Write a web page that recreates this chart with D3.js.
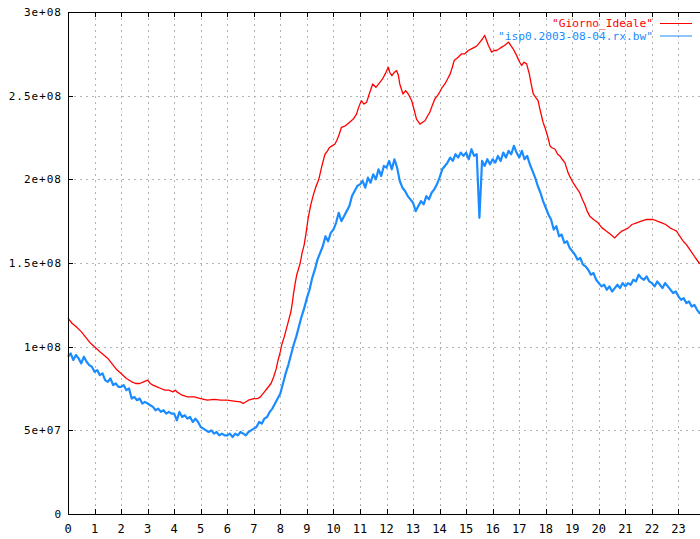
<!DOCTYPE html>
<html>
<head>
<meta charset="utf-8">
<script src="https://cdn.jsdelivr.net/npm/d3@7"></script>
<style>
  body { margin: 0; background: #fff; }
  svg { display: block; }
</style>
</head>
<body>
<div id="vis"></div>
<script>
// tick labels
var xTicks = d3.range(0, 24);
var yTicks = [0, 5e7, 1e8, 1.5e8, 2e8, 2.5e8, 3e8];
var yTickLabels = ["0", "5e+07", "1e+08", "1.5e+08", "2e+08", "2.5e+08", "3e+08"];

var seriesNames = ['"Giorno_Ideale"', '"isp0.2003-08-04.rx.bw"'];

// Giorno_Ideale, [hour, value in millions]
var ideale = [
  [0.0,117],[0.15,114],[0.3,112],[0.5,109],[0.7,105],[0.85,102],[1.0,100],[1.2,97],[1.35,95],[1.5,93],
  [1.7,89],[1.85,86],[2.0,84],[2.2,81],[2.4,79],[2.55,78],[2.7,78],[2.85,79],[3.0,80],[3.1,78],
  [3.2,77],[3.35,76],[3.5,75],[3.65,74],[3.8,74],[3.95,73],[4.05,74],[4.1,73],[4.3,71],[4.5,70],
  [4.75,70],[5.0,69],[5.25,68],[5.5,68.5],[5.75,68],[6.0,68],[6.25,67.5],[6.5,67],[6.6,66],[6.8,68],
  [7.0,69],[7.15,69],[7.25,70],[7.4,73],[7.5,75],[7.65,78],[7.75,82],[7.85,87],[7.9,91],[8.0,97],
  [8.05,101],[8.15,106],[8.25,112],[8.35,118],[8.4,121],[8.45,126],[8.5,132],[8.56,138],[8.62,143],[8.75,150],
  [8.82,156],[8.9,161],[8.98,169],[9.05,177],[9.15,185],[9.25,191],[9.35,196],[9.45,200],[9.55,207],[9.68,215],
  [9.78,217],[9.85,219],[9.95,220],[10.05,221],[10.12,223],[10.2,226],[10.3,231],[10.45,232],[10.6,234],[10.75,236],
  [10.87,239],[10.95,243],[11.05,247],[11.15,245],[11.25,246],[11.35,251],[11.48,257],[11.6,255],[11.75,258],[11.85,260],
  [11.95,263],[12.07,267],[12.12,264],[12.2,262],[12.3,264],[12.38,265],[12.45,262],[12.5,257],[12.62,251],[12.72,253],
  [12.82,251],[12.95,247],[13.05,241],[13.13,236],[13.26,233],[13.35,234],[13.45,235],[13.55,238],[13.63,240],[13.72,244],
  [13.82,248],[13.92,250],[14.0,252],[14.1,255],[14.2,257],[14.3,260],[14.4,263],[14.48,267],[14.55,271],[14.7,273],
  [14.83,275],[14.95,275],[15.08,277],[15.2,278],[15.33,279],[15.42,280],[15.52,282],[15.62,284],[15.7,286],[15.77,283],
  [15.84,280],[15.9,278],[15.96,276],[16.05,277],[16.15,277],[16.25,278],[16.34,279],[16.45,280],[16.6,282],[16.68,280],
  [16.77,278],[16.87,275],[16.96,272],[17.02,270],[17.09,268],[17.18,270],[17.28,269],[17.33,266],[17.38,263],[17.45,257],
  [17.53,251],[17.62,249],[17.71,247],[17.78,242],[17.84,238],[17.9,234],[17.97,231],[18.03,228],[18.1,224],[18.16,220],
  [18.22,219],[18.35,218],[18.45,215],[18.53,214],[18.62,212],[18.72,210],[18.78,207],[18.84,204],[18.93,201],[19.03,198],
  [19.15,195],[19.28,192],[19.38,188],[19.47,185],[19.56,181],[19.66,178],[19.8,176],[19.97,174],[20.12,171],[20.29,169],
  [20.45,167],[20.6,165],[20.72,167],[20.86,169],[21.0,170],[21.11,171],[21.25,173],[21.42,174],[21.6,175],[21.8,176],
  [22.05,176],[22.2,175],[22.37,174],[22.52,173],[22.68,171],[22.8,170],[22.93,169],[23.05,166],[23.18,163],[23.3,161],
  [23.43,158],[23.6,154],[23.78,150],[24.0,147]
];

// isp0.2003-08-04.rx.bw, [hour, value in millions], read every 0.1 h
var isp = [
  [0.0,94],[0.1,96],[0.2,92],[0.3,95],[0.4,93],[0.5,90],[0.6,94],[0.7,91],[0.8,89],[0.9,88],
  [1.0,85],[1.1,86],[1.2,83],[1.3,84],[1.4,80],[1.5,79],[1.6,81],[1.7,77],[1.8,78],[1.9,76],
  [2.0,76],[2.1,77],[2.2,74],[2.3,75],[2.4,69],[2.5,70],[2.6,68],[2.7,69],[2.8,66],[2.9,67],
  [3.0,66],[3.1,65],[3.2,64],[3.3,62],[3.4,63],[3.5,61],[3.6,62],[3.7,60],[3.8,61],[3.9,60],
  [4.0,60],[4.1,56],[4.2,61],[4.3,58],[4.4,59],[4.5,57],[4.6,58],[4.7,55],[4.8,57],[4.9,55],
  [5.0,52],[5.1,51],[5.2,50],[5.3,49],[5.4,50],[5.5,48],[5.6,49],[5.7,47],[5.8,48],[5.9,47],
  [6.0,47],[6.1,48],[6.2,46],[6.3,48],[6.4,47],[6.5,49],[6.6,48],[6.7,47],[6.8,49],[6.9,50],
  [7.0,51],[7.1,52],[7.2,55],[7.3,54],[7.4,57],[7.5,58],[7.6,61],[7.7,63],[7.8,66],[7.9,69],
  [8.0,72],[8.1,78],[8.2,84],[8.3,89],[8.4,95],[8.5,101],[8.6,106],[8.7,112],[8.8,118],[8.9,123],
  [9.0,129],[9.1,134],[9.2,141],[9.3,146],[9.4,152],[9.5,156],[9.6,160],[9.7,166],[9.8,163],[9.9,168],
  [10.0,170],[10.1,174],[10.2,180],[10.3,175],[10.4,178],[10.5,181],[10.6,184],[10.7,190],[10.8,193],[10.9,196],
  [11.0,197],[11.1,199],[11.2,195],[11.3,201],[11.4,198],[11.5,203],[11.6,200],[11.7,206],[11.8,202],[11.9,208],
  [12.0,207],[12.1,211],[12.2,206],[12.3,212],[12.4,207],[12.5,199],[12.6,195],[12.7,193],[12.8,190],[12.9,188],
  [13.0,186],[13.1,181],[13.2,184],[13.3,187],[13.4,185],[13.5,190],[13.6,188],[13.7,192],[13.8,194],[13.9,197],
  [14.0,201],[14.1,206],[14.2,208],[14.3,210],[14.4,213],[14.5,211],[14.6,215],[14.7,213],[14.8,216],[14.9,214],
  [15.0,216],[15.1,212],[15.2,218],[15.3,214],[15.4,215],[15.5,177],[15.6,211],[15.7,208],[15.8,212],[15.9,209],
  [16.0,212],[16.1,210],[16.2,214],[16.3,211],[16.4,216],[16.5,213],[16.6,217],[16.7,215],[16.8,220],[16.9,216],
  [17.0,213],[17.1,217],[17.2,212],[17.3,214],[17.4,209],[17.5,205],[17.6,201],[17.7,196],[17.8,192],[17.9,187],
  [18.0,183],[18.1,179],[18.2,176],[18.3,170],[18.4,172],[18.5,166],[18.6,167],[18.7,162],[18.8,163],[18.9,159],
  [19.0,157],[19.1,155],[19.2,152],[19.3,153],[19.4,149],[19.5,148],[19.6,146],[19.7,143],[19.8,144],[19.9,140],
  [20.0,138],[20.1,136],[20.2,137],[20.3,134],[20.4,136],[20.5,133],[20.6,135],[20.7,137],[20.8,135],[20.9,138],
  [21.0,136],[21.1,138],[21.2,137],[21.3,140],[21.4,139],[21.5,143],[21.6,141],[21.7,140],[21.8,142],[21.9,139],
  [22.0,138],[22.1,136],[22.2,139],[22.3,137],[22.4,135],[22.5,138],[22.6,136],[22.7,134],[22.8,132],[22.9,133],
  [23.0,130],[23.1,128],[23.2,129],[23.3,126],[23.4,127],[23.5,124],[23.6,125],[23.7,122],[23.8,120],[23.9,121],
  [24.0,118]
];

var colors = ["#ff0000", "#1a8cff"];

// set the dimensions and margins of the graph
var W = 700, H = 539;
var margin = {top: 12, left: 68, bottom: 25},
    plotRight = 705,
    plotBottom = H - margin.bottom;

var svg = d3.select("#vis")
  .append("svg")
  .attr("width", W)
  .attr("height", H);

var x = d3.scaleLinear()
  .domain([0, 24])
  .range([margin.left, plotRight]);

var y = d3.scaleLinear()
  .domain([0, 3e8])
  .range([plotBottom, margin.top]);

// dotted grid
var grid = svg.append("g")
  .attr("stroke", "#b4b4b4")
  .attr("stroke-width", 1)
  .attr("stroke-dasharray", "2,4");

grid.selectAll(".gx")
  .data(xTicks.filter(function(d) { return d > 0; }))
  .enter().append("line")
  .attr("x1", function(d) { return Math.round(x(d)) + 0.5; })
  .attr("x2", function(d) { return Math.round(x(d)) + 0.5; })
  .attr("y1", y(3e8))
  .attr("y2", y(0));

grid.selectAll(".gy")
  .data(yTicks.filter(function(d) { return d > 0 && d < 3e8; }))
  .enter().append("line")
  .attr("x1", x(0))
  .attr("x2", x(24))
  .attr("y1", function(d) { return Math.round(y(d)) + 0.5; })
  .attr("y2", function(d) { return Math.round(y(d)) + 0.5; });

// the data lines
var line = d3.line()
  .x(function(d) { return x(d[0]); })
  .y(function(d) { return y(d[1] * 1e6); });

svg.append("path")
  .datum(isp)
  .attr("fill", "none")
  .attr("stroke", colors[1])
  .attr("stroke-width", 2.2)
  .attr("stroke-linejoin", "round")
  .attr("d", line);

svg.append("path")
  .datum(ideale)
  .attr("fill", "none")
  .attr("stroke", colors[0])
  .attr("stroke-width", 1.3)
  .attr("stroke-linejoin", "round")
  .attr("d", line);

// border
svg.append("rect")
  .attr("x", Math.round(x(0)) + 0.5)
  .attr("y", Math.round(y(3e8)) + 0.5)
  .attr("width", Math.round(x(24)) - Math.round(x(0)))
  .attr("height", Math.round(y(0)) - Math.round(y(3e8)))
  .attr("fill", "none")
  .attr("stroke", "#000")
  .attr("stroke-width", 1);

// inward ticks, mirrored on top
var tk = svg.append("g").attr("stroke", "#000").attr("stroke-width", 1);
xTicks.forEach(function(d) {
  var px = Math.round(x(d)) + 0.5;
  tk.append("line").attr("x1", px).attr("x2", px)
    .attr("y1", Math.round(y(0))).attr("y2", Math.round(y(0)) - 5);
  tk.append("line").attr("x1", px).attr("x2", px)
    .attr("y1", Math.round(y(3e8))).attr("y2", Math.round(y(3e8)) + 5);
});
yTicks.forEach(function(d) {
  var py = Math.round(y(d)) + 0.5;
  tk.append("line").attr("x1", Math.round(x(0))).attr("x2", Math.round(x(0)) + 5)
    .attr("y1", py).attr("y2", py);
});

// tick labels
var font = "'DejaVu Sans Mono', monospace";
svg.selectAll(".xl")
  .data(xTicks)
  .enter().append("text")
  .attr("x", function(d) { return x(d); })
  .attr("y", 533)
  .attr("text-anchor", "middle")
  .style("font-family", font)
  .style("font-size", "12px")
  .text(function(d) { return d; });

svg.selectAll(".yl")
  .data(yTicks)
  .enter().append("text")
  .attr("x", 62)
  .attr("y", function(d) { return y(d) + 4; })
  .attr("text-anchor", "end")
  .style("font-family", font)
  .style("font-size", "11px")
  .style("letter-spacing", "1px")
  .text(function(d, i) { return yTickLabels[i]; });

// legend
seriesNames.forEach(function(name, i) {
  var ly = 23 + i * 12.5;
  svg.append("text")
    .attr("x", 653)
    .attr("y", ly + 4)
    .attr("text-anchor", "end")
    .attr("fill", colors[i])
    .style("font-family", font)
    .style("font-size", "11.2px")
    .text(name);
  svg.append("line")
    .attr("x1", 660).attr("x2", 692)
    .attr("y1", ly + 0.5).attr("y2", ly + 0.5)
    .attr("stroke", colors[i])
    .attr("stroke-width", 1);
});
</script>
</body>
</html>
